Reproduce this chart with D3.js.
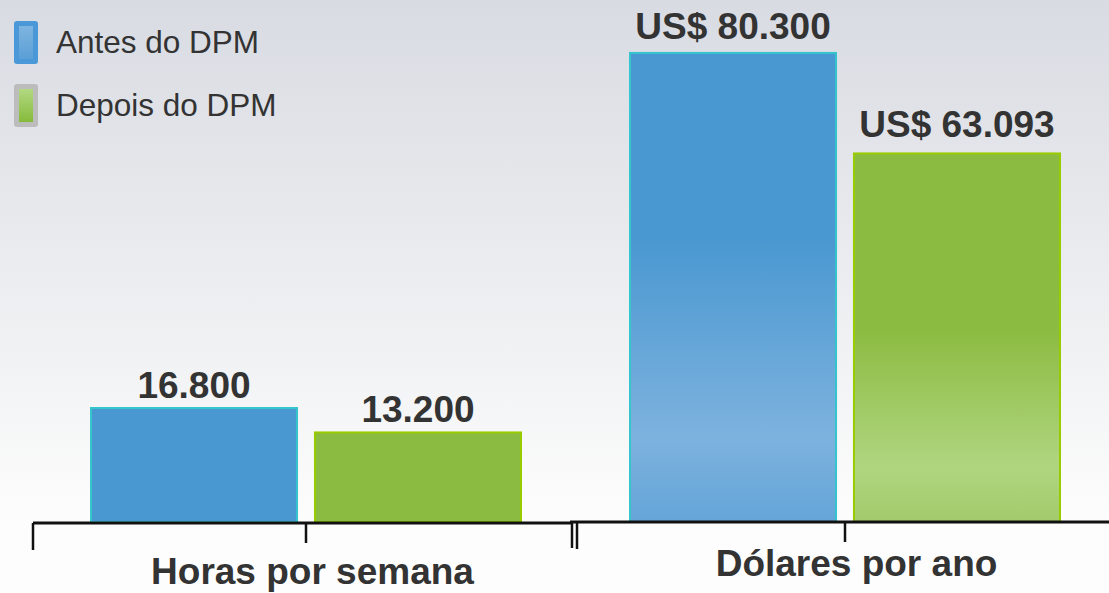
<!DOCTYPE html>
<html>
<head>
<meta charset="utf-8">
<script src="https://cdn.jsdelivr.net/npm/d3@7"></script>
<style>
  html, body { margin: 0; padding: 0; background: #fdfdfd; }
  svg { display: block; font-family: "Liberation Sans", Arial, sans-serif; }
</style>
</head>
<body>
<svg id="chart" width="1109" height="593"></svg>
<script>
// Data
const series = ["Antes do DPM", "Depois do DPM"];
const groups = ["Horas por semana", "Dólares por ano"];
const horasValues = [16.8, 13.2];
const dolaresValues = [80300, 63093];
const horasLabels = ["16.800", "13.200"];
const dolaresLabels = ["US$ 80.300", "US$ 63.093"];

const width = 1109;
const height = 593;
const baseY = 522;

const svg = d3.select("#chart");
const defs = svg.append("defs");

// background fade
const bg = defs.append("linearGradient")
  .attr("id", "bg").attr("x1", 0).attr("y1", 0).attr("x2", 0).attr("y2", 1);
bg.append("stop").attr("offset", "0").attr("stop-color", "#d8dbe2");
bg.append("stop").attr("offset", "0.55").attr("stop-color", "#eff0f2");
bg.append("stop").attr("offset", "0.88").attr("stop-color", "#fdfdfd");
bg.append("stop").attr("offset", "1").attr("stop-color", "#fdfdfd");
svg.append("rect").attr("width", width).attr("height", height).attr("fill", "url(#bg)");

// bar colours
const fills = ["#4a98d1", "#8bbb40"];
const strokes = ["#34c5cd", "#99cc00"];

// tall bars get a fade toward the bottom
function addBarGradient(id, stops) {
  const g = defs.append("linearGradient")
    .attr("id", id).attr("x1", 0).attr("y1", 0).attr("x2", 0).attr("y2", 1);
  stops.forEach(s => g.append("stop").attr("offset", s[0]).attr("stop-color", s[1]));
}
addBarGradient("fadeBlue", [[0, "#4a98d1"], [0.4, "#4a98d1"], [0.82, "#7db2de"], [1, "#64a5d8"]]);
addBarGradient("fadeGreen", [[0, "#8bbb40"], [0.47, "#8bbb40"], [0.85, "#b0d580"], [1, "#a3cb6b"]]);
addBarGradient("legBlue", [[0, "#7fb4e0"], [1, "#5a9fd6"]]);
addBarGradient("legGreen", [[0, "#b2d883"], [1, "#86bb3a"]]);

/**
 * Draws one panel: two bars, their value labels and the bracket axis below.
 */
function renderPanel(opts) {
  const { x0, x1, lineStart, mid, values, labels, yScale, title, titleY, faded, labelGap, axisY } = opts;

  const xScale = d3.scaleBand()
    .domain(series)
    .range([mid - 215, mid + 215])
    .paddingInner(0.08);

  const g = svg.append("g");

  g.selectAll(".bar")
    .data(values)
    .enter()
    .append("rect")
    .attr("class", "bar")
    .attr("x", (d, i) => xScale(series[i]))
    .attr("y", d => yScale(d))
    .attr("width", xScale.bandwidth())
    .attr("height", d => baseY - yScale(d))
    .attr("fill", (d, i) => faded ? (i === 0 ? "url(#fadeBlue)" : "url(#fadeGreen)") : fills[i])
    .attr("stroke", (d, i) => strokes[i])
    .attr("stroke-width", 2);

  g.selectAll(".value-label")
    .data(values)
    .enter()
    .append("text")
    .attr("class", "value-label")
    .attr("x", (d, i) => xScale(series[i]) + xScale.bandwidth() / 2)
    .attr("y", (d, i) => yScale(d) - labelGap[i])
    .attr("text-anchor", "middle")
    .attr("font-size", 37)
    .attr("font-weight", "bold")
    .attr("fill", "#333")
    .text((d, i) => labels[i]);

  // bracket axis
  const axis = g.append("g").attr("stroke", "#111").attr("fill", "none");
  axis.append("line").attr("x1", lineStart).attr("x2", x1).attr("y1", axisY).attr("y2", axisY)
    .attr("stroke-width", 3);
  axis.append("line").attr("x1", x0).attr("x2", x0).attr("y1", axisY).attr("y2", axisY + 27)
    .attr("stroke-width", 2.5);
  axis.append("line").attr("x1", x1).attr("x2", x1).attr("y1", axisY).attr("y2", axisY + 25)
    .attr("stroke-width", 2.5);
  axis.append("line").attr("x1", mid).attr("x2", mid).attr("y1", axisY).attr("y2", axisY + 20)
    .attr("stroke-width", 2.5);

  g.append("text")
    .attr("x", (x0 + x1) / 2 + 10)
    .attr("y", titleY)
    .attr("text-anchor", "middle")
    .attr("font-size", 37)
    .attr("font-weight", "bold")
    .attr("fill", "#333")
    .text(title);
}

const yHoras = d3.scaleLinear().domain([0, 70]).range([baseY, 47]);
const yDolares = d3.scaleLinear().domain([0, 82000]).range([baseY, 43]);

renderPanel({
  x0: 33, x1: 572, lineStart: 33, mid: 306, values: horasValues, labels: horasLabels,
  yScale: yHoras, title: groups[0], titleY: 584, faded: false, labelGap: [10, 10], axisY: 523
});
renderPanel({
  x0: 577, x1: 1116, lineStart: 570, mid: 845, values: dolaresValues, labels: dolaresLabels,
  yScale: yDolares, title: groups[1], titleY: 576, faded: true, labelGap: [14, 16], axisY: 522
});

// legend
const legend = svg.append("g").attr("class", "legend");
const legendItems = legend.selectAll(".item")
  .data(series)
  .enter()
  .append("g")
  .attr("class", "item")
  .attr("transform", (d, i) => `translate(14, ${21 + i * 63})`);

legendItems.append("rect")
  .attr("width", 24).attr("height", 43).attr("rx", 3)
  .attr("fill", (d, i) => i === 0 ? "#4a98d8" : "#bcbcbc");
legendItems.append("rect")
  .attr("x", 5).attr("y", 5).attr("width", 14).attr("height", 33)
  .attr("fill", (d, i) => i === 0 ? "url(#legBlue)" : "url(#legGreen)");
legendItems.append("text")
  .attr("x", 42)
  .attr("y", 32)
  .attr("font-size", 31.5)
  .attr("fill", "#333")
  .text(d => d);
</script>
</body>
</html>
